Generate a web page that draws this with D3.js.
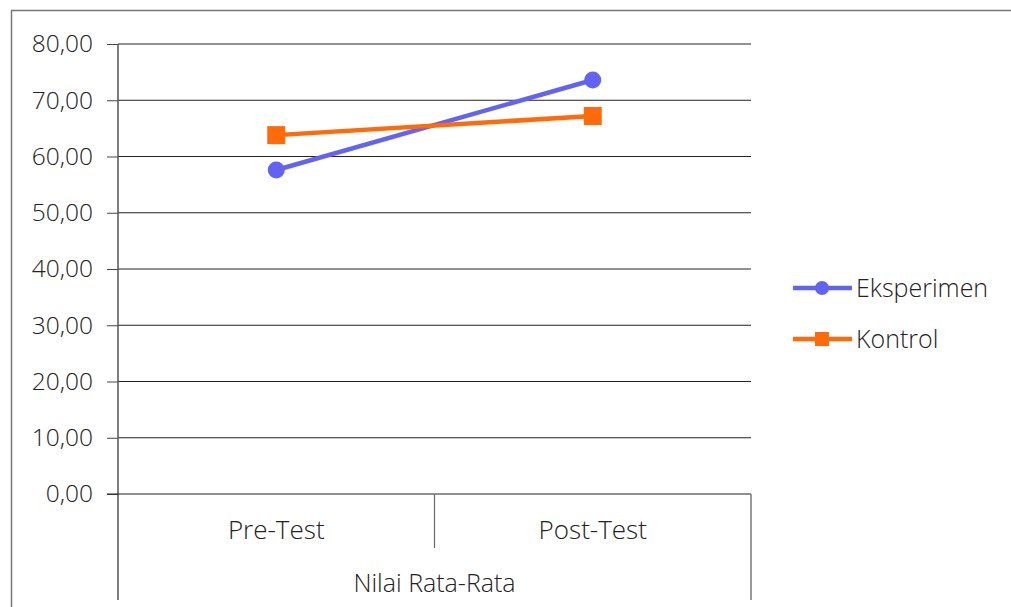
<!DOCTYPE html>
<html>
<head>
<meta charset="utf-8">
<script src="https://cdn.jsdelivr.net/npm/d3@7"></script>
<style>
  html, body { margin: 0; padding: 0; background: #fff; }
  svg { display: block; }
  text { font-family: "Open Sans", "Noto Sans", sans-serif; fill: #222; }
</style>
</head>
<body>
<svg id="chart" width="1011" height="607"></svg>
<script>
const categories = ["Pre-Test", "Post-Test"];
const groupLabel = "Nilai Rata-Rata";
const seriesNames = ["Eksperimen", "Kontrol"];
const eksperimen = [57.6, 73.6];
const kontrol = [63.8, 67.2];
const yTicks = [0, 10, 20, 30, 40, 50, 60, 70, 80];

const colors = { "Eksperimen": "#6363f2", "Kontrol": "#ff6a0a" };
const series = [
  { name: seriesNames[0], values: eksperimen, marker: "circle" },
  { name: seriesNames[1], values: kontrol, marker: "square" }
];

const svg = d3.select("#chart");
const pLeft = 118, pRight = 751, pTop = 44, pBottom = 494;

// outer border
svg.append("rect").attr("x", 11.5).attr("y", 10.5).attr("width", 1010).attr("height", 620)
  .attr("fill", "none").attr("stroke", "#777").attr("stroke-width", 1.5);

const x = d3.scaleBand().domain(categories).range([pLeft, pRight]).paddingInner(0).paddingOuter(0);
const y = d3.scaleLinear().domain([0, 80]).range([pBottom, pTop]);

// gridlines
svg.append("g").selectAll("line").data(yTicks.filter(t => t > 0)).join("line")
  .attr("x1", pLeft).attr("x2", pRight)
  .attr("y1", d => y(d)).attr("y2", d => y(d))
  .attr("stroke", "#222").attr("stroke-width", 1);

// y axis
const fmt = d => d3.format(".2f")(d).replace(".", ",");
const yAxis = svg.append("g").attr("transform", `translate(${pLeft},0)`)
  .call(d3.axisLeft(y).tickValues(yTicks).tickFormat(fmt).tickSize(11).tickPadding(14));
yAxis.select(".domain").remove();
yAxis.selectAll(".tick line").attr("stroke", "#444");
yAxis.selectAll(".tick text").attr("font-size", 24.5).attr("fill", "#222")
  .attr("font-family", "'Open Sans', sans-serif").attr("font-weight", 300);

// vertical axis line (extends through category region)
svg.append("line").attr("x1", pLeft).attr("x2", pLeft).attr("y1", pTop).attr("y2", 600)
  .attr("stroke", "#555").attr("stroke-width", 1.5);
// x baseline
svg.append("line").attr("x1", pLeft - 11).attr("x2", pRight).attr("y1", pBottom).attr("y2", pBottom)
  .attr("stroke", "#222").attr("stroke-width", 1.2);
// category divider
svg.append("line").attr("x1", x(categories[1])).attr("x2", x(categories[1]))
  .attr("y1", pBottom).attr("y2", 548).attr("stroke", "#666").attr("stroke-width", 1.2);
// right boundary
svg.append("line").attr("x1", pRight).attr("x2", pRight).attr("y1", pBottom).attr("y2", 600)
  .attr("stroke", "#777").attr("stroke-width", 1.5);

// category labels
svg.append("g").selectAll("text").data(categories).join("text")
  .attr("x", d => x(d) + x.bandwidth() / 2).attr("y", 539)
  .attr("text-anchor", "middle").attr("font-size", 26).attr("font-weight", 300).text(d => d);
svg.append("text").attr("x", (pLeft + pRight) / 2).attr("y", 592)
  .attr("text-anchor", "middle").attr("font-size", 25).attr("font-weight", 300).text(groupLabel);

// lines & markers
const cx = d => x(d) + x.bandwidth() / 2;
const line = d3.line().x((v, i) => cx(categories[i])).y(v => y(v));
series.forEach(s => {
  svg.append("path").attr("d", line(s.values)).attr("fill", "none")
    .attr("stroke", colors[s.name]).attr("stroke-width", 4.5);
});
series.forEach(s => {
  const g = svg.append("g");
  s.values.forEach((v, i) => {
    if (s.marker === "circle") {
      g.append("circle").attr("cx", cx(categories[i])).attr("cy", y(v)).attr("r", 8.5)
        .attr("fill", colors[s.name]);
    } else {
      g.append("rect").attr("x", cx(categories[i]) - 9).attr("y", y(v) - 9)
        .attr("width", 18).attr("height", 18).attr("fill", colors[s.name]);
    }
  });
});

// legend
const legendY = [288, 339];
series.forEach((s, i) => {
  const ly = legendY[i];
  svg.append("line").attr("x1", 793).attr("x2", 852).attr("y1", ly).attr("y2", ly)
    .attr("stroke", colors[s.name]).attr("stroke-width", 4.5);
  if (s.marker === "circle") {
    svg.append("circle").attr("cx", 822).attr("cy", ly).attr("r", 7).attr("fill", colors[s.name]);
  } else {
    svg.append("rect").attr("x", 815).attr("y", ly - 7).attr("width", 14).attr("height", 14)
      .attr("fill", colors[s.name]);
  }
  svg.append("text").attr("x", 856).attr("y", ly + 9).attr("font-size", 25).attr("font-weight", 300)
    .text(s.name);
});
</script>
</body>
</html>
